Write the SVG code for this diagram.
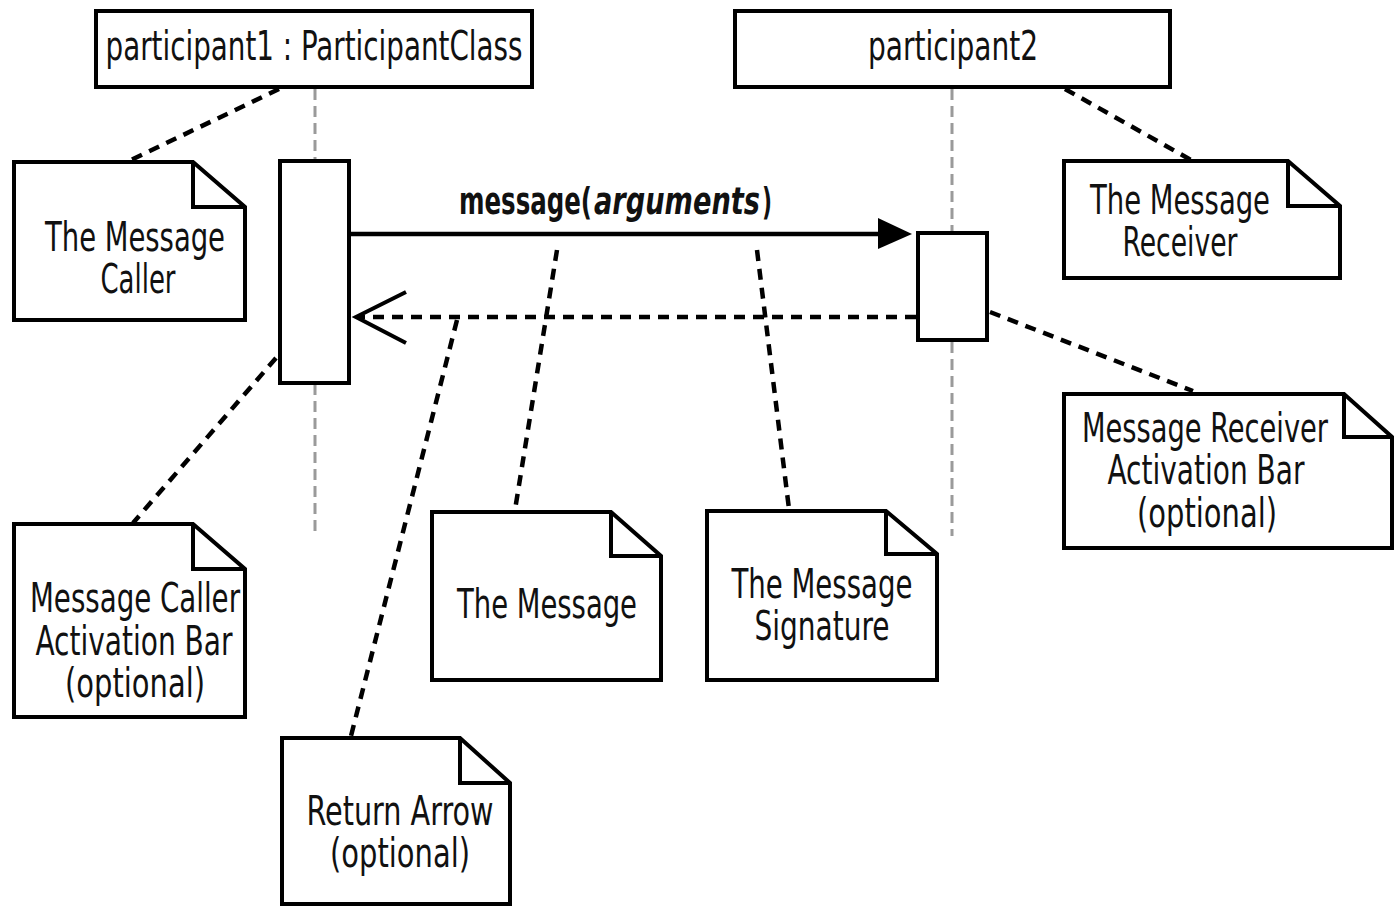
<svg xmlns="http://www.w3.org/2000/svg" width="1394" height="908" viewBox="0 0 1394 908">
<style>
.box{fill:#fff;stroke:#000;stroke-width:4}
.note{fill:#fff;stroke:#000;stroke-width:4;stroke-linejoin:miter}
.t{font-family:"Liberation Sans Narrow","DejaVu Sans Condensed","Liberation Sans",sans-serif;font-size:40px;fill:#111;text-anchor:middle}
.m{font-family:"Liberation Sans Narrow","DejaVu Sans Condensed","Liberation Sans",sans-serif;font-size:38px;fill:#111;font-weight:bold;text-anchor:start}
.life{stroke:#9a9a9a;stroke-width:3;stroke-dasharray:11 6;fill:none}
.dash{stroke:#000;stroke-width:4.5;stroke-dasharray:11 8;fill:none}
</style>
<rect width="1394" height="908" fill="#fff"/>
<g id="lifelines">
<line class="life" x1="315" y1="89" x2="315" y2="160"/>
<line class="life" x1="315" y1="384" x2="315" y2="536"/>
<line class="life" x1="952" y1="89" x2="952" y2="232"/>
<line class="life" x1="952" y1="342" x2="952" y2="536"/>
</g>
<g id="participant1">
<rect class="box" x="96" y="11" width="436" height="76"/>
<text class="t" x="314" y="60" font-size="38" textLength="417" lengthAdjust="spacingAndGlyphs">participant1 : ParticipantClass</text>
</g>
<g id="participant2">
<rect class="box" x="735" y="11" width="435" height="76"/>
<text class="t" x="953" y="60" font-size="38" textLength="170" lengthAdjust="spacingAndGlyphs">participant2</text>
</g>
<g id="activation1">
<rect class="box" x="280" y="161" width="69" height="222"/>
</g>
<g id="activation2">
<rect class="box" x="918" y="233" width="69" height="107"/>
</g>
<g id="connectors">
<line x1="350" y1="234" x2="882" y2="234" stroke="#000" stroke-width="4.5"/>
<polygon points="878,218 912,234 878,249" fill="#000"/>
<line class="dash" x1="916" y1="317" x2="358" y2="317"/>
<polyline points="406,292 356,317 406,343" fill="none" stroke="#000" stroke-width="4"/>
<line class="dash" x1="279" y1="89" x2="131" y2="160"/>
<line class="dash" x1="1065" y1="89" x2="1191" y2="160"/>
<line class="dash" x1="276" y1="358" x2="133" y2="523"/>
<line class="dash" x1="990" y1="312" x2="1193" y2="391"/>
<line class="dash" x1="557" y1="250" x2="515" y2="510"/>
<line class="dash" x1="757" y1="250" x2="789" y2="509"/>
<line class="dash" x1="457" y1="320" x2="351" y2="736"/>
</g>
<g id="message-label">
<text class="m" x="459" y="214" textLength="133" lengthAdjust="spacingAndGlyphs">message(</text>
<text class="m" x="594" y="214" font-style="italic" textLength="166" lengthAdjust="spacingAndGlyphs">arguments</text>
<text class="m" x="762" y="214" textLength="10" lengthAdjust="spacingAndGlyphs">)</text>
</g>
<g id="note-caller">
<path class="note" d="M14,162 H193 L245,207 V320 H14 Z M193,162 V207 H245"/>
<text class="t" x="135" y="251" textLength="180" lengthAdjust="spacingAndGlyphs">The Message</text>
<text class="t" x="138" y="293" textLength="75" lengthAdjust="spacingAndGlyphs">Caller</text>
</g>
<g id="note-receiver">
<path class="note" d="M1064,161 H1288 L1340,206 V278 H1064 Z M1288,161 V206 H1340"/>
<text class="t" x="1180" y="214" textLength="180" lengthAdjust="spacingAndGlyphs">The Message</text>
<text class="t" x="1180" y="256" textLength="115" lengthAdjust="spacingAndGlyphs">Receiver</text>
</g>
<g id="note-caller-activation">
<path class="note" d="M14,524 H193 L245,569 V717 H14 Z M193,524 V569 H245"/>
<text class="t" x="135" y="612" textLength="210" lengthAdjust="spacingAndGlyphs">Message Caller</text>
<text class="t" x="134" y="655" textLength="197" lengthAdjust="spacingAndGlyphs">Activation Bar</text>
<text class="t" x="135" y="697" textLength="140" lengthAdjust="spacingAndGlyphs">(optional)</text>
</g>
<g id="note-message">
<path class="note" d="M432,512 H611 L661,556 V680 H432 Z M611,512 V556 H661"/>
<text class="t" x="547" y="618" textLength="180" lengthAdjust="spacingAndGlyphs">The Message</text>
</g>
<g id="note-signature">
<path class="note" d="M707,511 H886 L937,554 V680 H707 Z M886,511 V554 H937"/>
<text class="t" x="822" y="598" textLength="181" lengthAdjust="spacingAndGlyphs">The Message</text>
<text class="t" x="822" y="640" textLength="135" lengthAdjust="spacingAndGlyphs">Signature</text>
</g>
<g id="note-return">
<path class="note" d="M282,738 H460 L510,783 V904 H282 Z M460,738 V783 H510"/>
<text class="t" x="400" y="825" textLength="187" lengthAdjust="spacingAndGlyphs">Return Arrow</text>
<text class="t" x="400" y="867" textLength="140" lengthAdjust="spacingAndGlyphs">(optional)</text>
</g>
<g id="note-receiver-activation">
<path class="note" d="M1064,394 H1344 L1392,437 V548 H1064 Z M1344,394 V437 H1392"/>
<text class="t" x="1205" y="442" textLength="246" lengthAdjust="spacingAndGlyphs">Message Receiver</text>
<text class="t" x="1206" y="484" textLength="197" lengthAdjust="spacingAndGlyphs">Activation Bar</text>
<text class="t" x="1207" y="527" textLength="140" lengthAdjust="spacingAndGlyphs">(optional)</text>
</g>
</svg>
